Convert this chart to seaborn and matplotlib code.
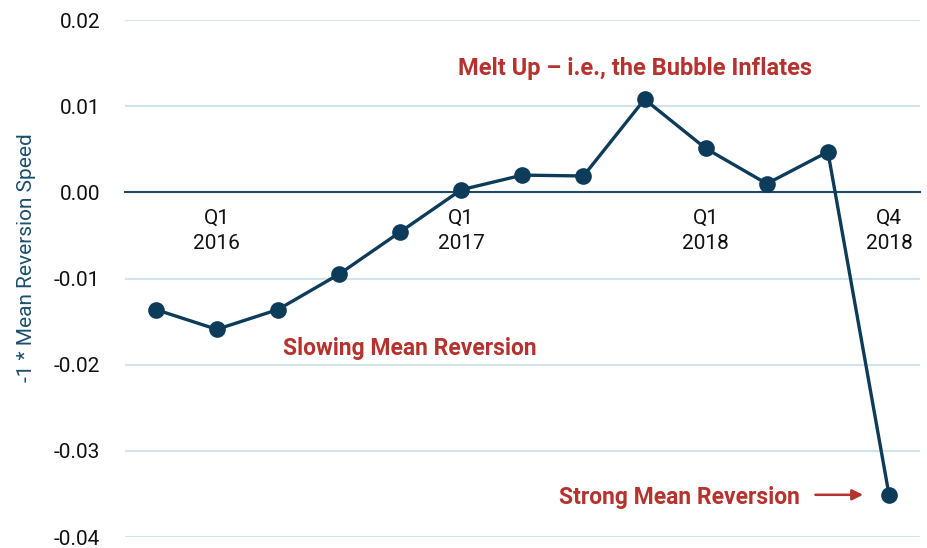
import numpy as np
import pandas as pd
import matplotlib
matplotlib.use("Agg")
import matplotlib.pyplot as plt
import seaborn as sns

# Quarterly values, Q4 2015 .. Q4 2018
quarters = ["Q4 2015", "Q1 2016", "Q2 2016", "Q3 2016", "Q4 2016",
            "Q1 2017", "Q2 2017", "Q3 2017", "Q4 2017",
            "Q1 2018", "Q2 2018", "Q3 2018", "Q4 2018"]
speed = [-0.0136, -0.0159, -0.0136, -0.0095, -0.0046,
         0.0003, 0.0020, 0.0019, 0.0108,
         0.0051, 0.0010, 0.0047, -0.0351]

tick_pos = [1, 5, 9, 12]
tick_labels = ["Q1\n2016", "Q1\n2017", "Q1\n2018", "Q4\n2018"]
y_ticks = [0.02, 0.01, 0.00, -0.01, -0.02, -0.03, -0.04]

navy = "#0d3b5a"
red = "#b5322e"
grid_color = "#d3e3ec"

sns.set_style("white")
plt.rcParams['font.family'] = ['Roboto', 'DejaVu Sans']

df = pd.DataFrame({"idx": np.arange(len(quarters)), "speed": speed})

fig = plt.figure(figsize=(9.27, 5.48), dpi=100)
ax = fig.add_axes([0.135, 0.02, 0.857, 0.9435])

# grid lines
for yv in y_ticks:
    if yv != 0:
        ax.axhline(yv, color=grid_color, lw=1.5, zorder=0)

sns.lineplot(data=df, x="idx", y="speed", ax=ax, color=navy, lw=2.4,
             marker="o", markersize=12, markeredgewidth=0, zorder=3)

ax.set_xlim(-0.5, 12.5)
ax.set_ylim(-0.04, 0.02)

for s in ["top", "right", "left"]:
    ax.spines[s].set_visible(False)
ax.spines["bottom"].set_position(("data", 0))
ax.spines["bottom"].set_color("#1f4a66")
ax.spines["bottom"].set_linewidth(1.5)
ax.spines["bottom"].set_zorder(1)

ax.set_xticks(tick_pos)
ax.set_xticklabels(tick_labels, fontsize=15, color="#111111", linespacing=1.4)
ax.set_yticks(y_ticks)
ax.set_yticklabels([f"{v:.2f}" for v in y_ticks], fontsize=15, color="#111111")
ax.tick_params(axis="x", length=0, pad=12)
ax.tick_params(axis="y", length=0, pad=18)
ax.set_xlabel("")
ax.set_ylabel("-1 * Mean Reversion Speed", fontsize=15, color="#1d4f6e", labelpad=12)
ax.yaxis.set_label_coords(-0.112, 0.54)

ax.text(7.85, 0.0144, "Melt Up \u2013 i.e., the Bubble Inflates", color=red,
        fontsize=17, fontweight="bold", ha="center", va="center")
ax.text(4.16, -0.0181, "Slowing Mean Reversion", color=red,
        fontsize=16.5, fontweight="bold", ha="center", va="center")
ax.text(10.54, -0.0354, "Strong Mean Reversion", color=red,
        fontsize=16.5, fontweight="bold", ha="right", va="center")
ax.annotate("", xy=(11.62, -0.0351), xytext=(10.75, -0.0351),
            arrowprops=dict(arrowstyle="-|>", color=red, lw=1.8, mutation_scale=16))

fig.savefig("out.png", dpi=100)
